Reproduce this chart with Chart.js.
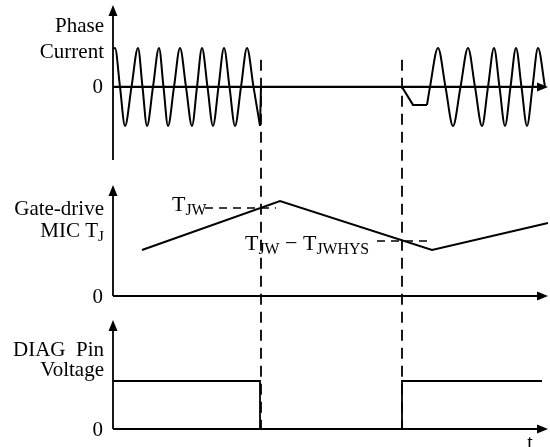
<!DOCTYPE html>
<html>
<head>
<meta charset="utf-8">
<script src="https://cdn.jsdelivr.net/npm/chart.js@4.4.1/dist/chart.umd.min.js"></script>
<style>
  html, body { margin: 0; padding: 0; background: #fff; }
  #wrap { width: 550px; height: 447px; position: relative; }
</style>
</head>
<body>
<div id="wrap"><canvas id="timing"></canvas></div>
<script>
// time axis, arbitrary units (0 = vertical axes)
const tMax = 435;

// phase current, burst before shutdown (peaks / zero crossings / troughs)
const burst1T = [0, 2, 7, 12, 18.5, 25, 29.5, 34, 40, 46, 50.5, 55, 61, 67, 73, 79, 84, 89, 94.5, 100, 105.5, 111, 116.5, 122, 128, 134, 140.5, 147];
const burst1I = [0.97, 1, 0, -1, 0, 1, 0, -1, 0, 1, 0, -1, 0, 1, 0, -1, 0, 1, 0, -1, 0, 1, 0, -1, 0, 1, 0, -1];
// phase current while stopped, then the small dip before restart
const offT = [147, 148, 289, 300, 314];
const offI = [-1, 0, 0, -0.46, -0.46];
// phase current, burst after restart
const burst2T = [314, 317, 325, 332.5, 340, 347.5, 355, 362, 369, 375, 381, 386.5, 392, 397.5, 403, 408.5, 414, 419.5, 425, 432];
const burst2I = [-0.46, 0, 1, 0, -1, 0, 1, 0, -1, 0, 1, 0, -1, 0, 1, 0, -1, 0, 1, 0];

// gate-drive MIC junction temperature
const tjT = [29, 167, 319, 435];
const tjV = [46, 95, 46, 73];
const tjw = 88;        // T_JW
const tjwLow = 55;     // T_JW - T_JWHYS

// DIAG pin voltage
const diagT = [0, 147, 147, 289, 289, 429];
const diagV = [1, 1, 0, 0, 1, 1];

// shutdown / restart instants
const eventT = [148, 289];

const panelLabels = [["Phase", "Current"], ["Gate-drive", "MIC T_{J}"], ["DIAG  Pin", "Voltage"]];
const tickLabels = ["0"];
const tjwLabel = "T_{JW}";
const tjwLowLabel = "T_{JW} \u2212 T_{JWHYS}";
const timeLabel = "t";

const pts = (xs, ys) => xs.map((x, i) => ({ x: x, y: ys[i] }));
const serif = s => s + 'px "Liberation Serif", "Times New Roman", serif';

function drawRich(ctx, str, x, y, align, size) {
  const parts = str.split(/(_\{[^}]*\})/).filter(Boolean).map(p =>
    p.startsWith("_{") ? { t: p.slice(2, -1), sub: true } : { t: p, sub: false });
  let w = 0;
  parts.forEach(p => {
    ctx.font = serif(p.sub ? size * 0.72 : size);
    p.w = ctx.measureText(p.t).width;
    w += p.w;
  });
  let cx = align === "right" ? x - w : x;
  ctx.textAlign = "left";
  ctx.textBaseline = "alphabetic";
  parts.forEach(p => {
    ctx.font = serif(p.sub ? size * 0.72 : size);
    ctx.fillText(p.t, cx, p.sub ? y + size * 0.18 : y);
    cx += p.w;
  });
}

function arrowUp(ctx, x, y) {
  ctx.beginPath();
  ctx.moveTo(x, y);
  ctx.lineTo(x - 4.5, y + 11);
  ctx.lineTo(x + 4.5, y + 11);
  ctx.closePath();
  ctx.fill();
}
function arrowRight(ctx, x, y) {
  ctx.beginPath();
  ctx.moveTo(x, y);
  ctx.lineTo(x - 11, y - 4.5);
  ctx.lineTo(x - 11, y + 4.5);
  ctx.closePath();
  ctx.fill();
}

const decor = {
  id: "decor",
  afterDatasetsDraw(chart) {
    const { ctx, scales } = chart;
    const x = scales.x;
    const x0 = x.getPixelForValue(0);
    const xEnd = x.getPixelForValue(tMax);
    // axis extents per panel: [scale, bottom value, top value]
    const axes = [[scales.y1, -1.87, 2.1], [scales.y2, 0, 111], [scales.y3, 0, 2.27]];
    ctx.save();
    ctx.strokeStyle = "#000";
    ctx.fillStyle = "#000";
    axes.forEach(([s, lo, hi]) => {
      const zy = s.getPixelForValue(0);
      const top = s.getPixelForValue(hi);
      ctx.lineWidth = 1.8;
      ctx.beginPath();
      ctx.moveTo(x0, s.getPixelForValue(lo));
      ctx.lineTo(x0, top + 8);
      ctx.stroke();
      arrowUp(ctx, x0, top);
      ctx.lineWidth = 2.2;
      ctx.beginPath();
      ctx.moveTo(x0, zy);
      ctx.lineTo(xEnd - 8, zy);
      ctx.stroke();
      arrowRight(ctx, xEnd, zy);
      ctx.font = serif(21);
      ctx.textAlign = "right";
      ctx.textBaseline = "middle";
      ctx.fillText(tickLabels[0], x0 - 10, zy + 1);
    });

    // event markers
    ctx.lineWidth = 1.8;
    ctx.setLineDash([11, 7]);
    eventT.forEach(t => {
      const px = x.getPixelForValue(t);
      ctx.beginPath();
      ctx.moveTo(px, scales.y1.getPixelForValue(0.7));
      ctx.lineTo(px, scales.y3.getPixelForValue(0));
      ctx.stroke();
    });

    // thresholds
    ctx.setLineDash([8, 6]);
    ctx.lineWidth = 1.6;
    ctx.beginPath();
    ctx.moveTo(x.getPixelForValue(92), scales.y2.getPixelForValue(tjw));
    ctx.lineTo(x.getPixelForValue(163), scales.y2.getPixelForValue(tjw));
    ctx.moveTo(x.getPixelForValue(264), scales.y2.getPixelForValue(tjwLow));
    ctx.lineTo(x.getPixelForValue(316), scales.y2.getPixelForValue(tjwLow));
    ctx.stroke();
    ctx.setLineDash([]);

    // texts
    const labelY = [[32, 58], [215, 237], [356, 376]];
    panelLabels.forEach((lines, i) => {
      lines.forEach((line, j) => drawRich(ctx, line, x0 - 9, labelY[i][j], "right", 21));
    });
    drawRich(ctx, tjwLabel, x.getPixelForValue(59), scales.y2.getPixelForValue(tjw) + 3, "left", 22);
    drawRich(ctx, tjwLowLabel, x.getPixelForValue(132), scales.y2.getPixelForValue(tjwLow) + 9, "left", 22);
    ctx.font = serif(20);
    ctx.textAlign = "center";
    ctx.textBaseline = "alphabetic";
    ctx.fillText(timeLabel, xEnd - 18, 449);
    ctx.restore();
  }
};

const lineSet = (data, axis, width, monotone) => ({
  data: data,
  yAxisID: axis,
  borderColor: "#000",
  borderWidth: width,
  pointRadius: 0,
  fill: false,
  clip: false,
  tension: 0,
  cubicInterpolationMode: monotone ? "monotone" : "default"
});

new Chart(document.getElementById("timing"), {
  type: "line",
  data: {
    datasets: [
      lineSet(pts(burst1T, burst1I), "y1", 2, true),
      lineSet(pts(offT, offI), "y1", 2, false),
      lineSet(pts(burst2T, burst2I), "y1", 2, true),
      lineSet(pts(tjT, tjV), "y2", 1.9, false),
      lineSet(pts(diagT, diagV), "y3", 1.8, false)
    ]
  },
  options: {
    responsive: true,
    maintainAspectRatio: false,
    animation: false,
    events: [],
    layout: { autoPadding: false, padding: { left: 113, right: 2, top: 5, bottom: 18 } },
    plugins: { legend: { display: false }, tooltip: { enabled: false } },
    scales: {
      x: { type: "linear", min: 0, max: tMax, display: false },
      y1: { type: "linear", min: -2.18, max: 2.1, display: false, position: "left", stack: "panels", stackWeight: 167, weight: 3 },
      y2: { type: "linear", min: -12, max: 124, display: false, position: "left", stack: "panels", stackWeight: 136, weight: 2 },
      y3: { type: "linear", min: 0, max: 2.52, display: false, position: "left", stack: "panels", stackWeight: 121, weight: 1 }
    }
  },
  plugins: [decor]
});
</script>
</body>
</html>
